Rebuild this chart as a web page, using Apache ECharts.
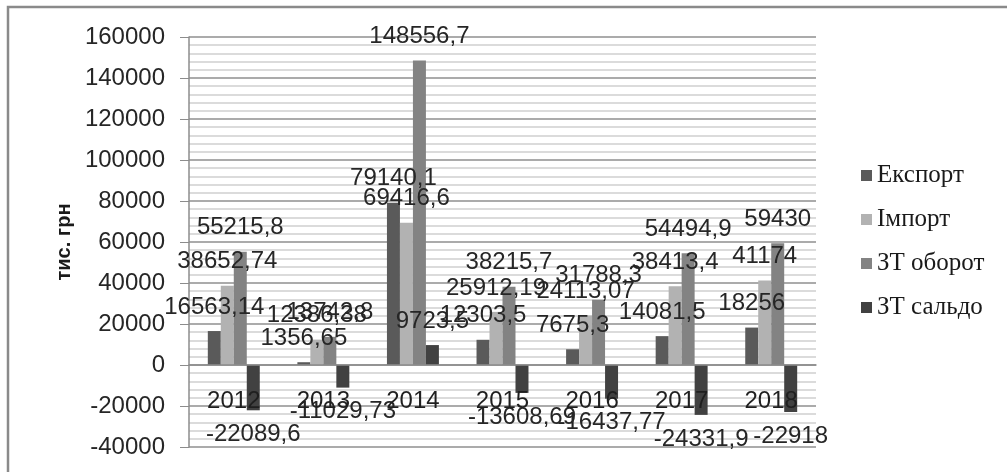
<!DOCTYPE html>
<html>
<head>
<meta charset="utf-8">
<script src="https://cdn.jsdelivr.net/npm/echarts@6/dist/echarts.min.js"></script>
<style>
  html, body { margin: 0; padding: 0; background: #fff; }
  #chart { width: 1007px; height: 472px; }
</style>
</head>
<body>
<div id="chart"></div>
<script>
const years = ['2012', '2013', '2014', '2015', '2016', '2017', '2018']
const exportData = [16563.14, 1356.65, 79140.1, 12303.5, 7675.3, 14081.5, 18256]
const importData = [38652.74, 12386.38, 69416.6, 25912.19, 24113.07, 38413.4, 41174]
const turnoverData = [55215.8, 13742.8, 148556.7, 38215.7, 31788.3, 54494.9, 59430]
const saldoData = [-22089.6, -11029.73, 9723.5, -13608.69, -16437.77, -24331.9, -22918]
const seriesNames = ['Експорт', 'Імпорт', 'ЗТ оборот', 'ЗТ сальдо']
const seriesColors = ['#5a5a5a', '#b2b2b2', '#838383', '#414141']

// підпис: вище для додатних, нижче для від'ємних
function withLabels(arr) {
  return arr.map(v => ({
    value: v,
    label: { position: v < 0 ? 'bottom' : 'top' }
  }))
}

function makeSeries(name, data, color) {
  return {
    name: name,
    type: 'bar',
    data: withLabels(data),
    barGap: '0%',
    barCategoryGap: '42%',
    itemStyle: { color: color },
    label: {
      show: true,
      distance: 12,
      fontFamily: 'Liberation Sans',
      fontSize: 24,
      color: '#262626',
      formatter: p => String(p.value).replace('.', ',')
    }
  }
}

const chart = echarts.init(document.getElementById('chart'))
chart.setOption({
  animation: false,
  backgroundColor: '#fff',
  graphic: [{
    type: 'rect',
    shape: { x: 8, y: 7, width: 1020, height: 490 },
    style: { fill: 'none', stroke: '#8a8a8a', lineWidth: 2.5 },
    silent: true
  }],
  grid: {
    left: 189,
    right: 191,
    top: 37,
    bottom: 25,
    outerBoundsMode: 'none'
  },
  legend: {
    orient: 'vertical',
    left: 856,
    top: 158,
    itemWidth: 11,
    itemHeight: 11,
    itemGap: 19,
    icon: 'rect',
    textStyle: {
      fontFamily: 'Liberation Serif',
      fontSize: 25,
      color: '#1a1a1a'
    },
    data: seriesNames
  },
  xAxis: {
    type: 'category',
    data: years,
    z: 5,
    axisLine: { onZero: true, lineStyle: { color: '#8c8c8c', width: 1.5 } },
    axisTick: { show: false },
    // підписи років стоять під нульовою лінією, як в Excel
    axisLabel: {
      margin: -58,
      fontFamily: 'Liberation Sans',
      fontSize: 24,
      color: '#1f1f1f'
    },
    splitLine: { show: false }
  },
  yAxis: {
    type: 'value',
    min: -40000,
    max: 160000,
    interval: 20000,
    name: 'тис. грн',
    nameLocation: 'middle',
    nameGap: 100,
    nameTextStyle: {
      fontFamily: 'Liberation Sans',
      fontWeight: 'bold',
      fontSize: 20,
      color: '#1a1a1a'
    },
    axisLine: { show: true, lineStyle: { color: '#8c8c8c', width: 1.5 } },
    axisTick: { show: true, length: 9, lineStyle: { color: '#8c8c8c' } },
    axisLabel: {
      margin: 24,
      fontFamily: 'Liberation Sans',
      fontSize: 24,
      color: '#262626',
      formatter: v => String(v)
    },
    splitLine: { show: true, lineStyle: { color: '#8f8f8f', width: 1.5 } },
    minorTick: { show: false, splitNumber: 5 },
    minorSplitLine: { show: true, lineStyle: { color: '#cfcfcf', width: 1.5 } }
  },
  series: [
    makeSeries(seriesNames[0], exportData, seriesColors[0]),
    makeSeries(seriesNames[1], importData, seriesColors[1]),
    makeSeries(seriesNames[2], turnoverData, seriesColors[2]),
    makeSeries(seriesNames[3], saldoData, seriesColors[3])
  ]
})
</script>
</body>
</html>
